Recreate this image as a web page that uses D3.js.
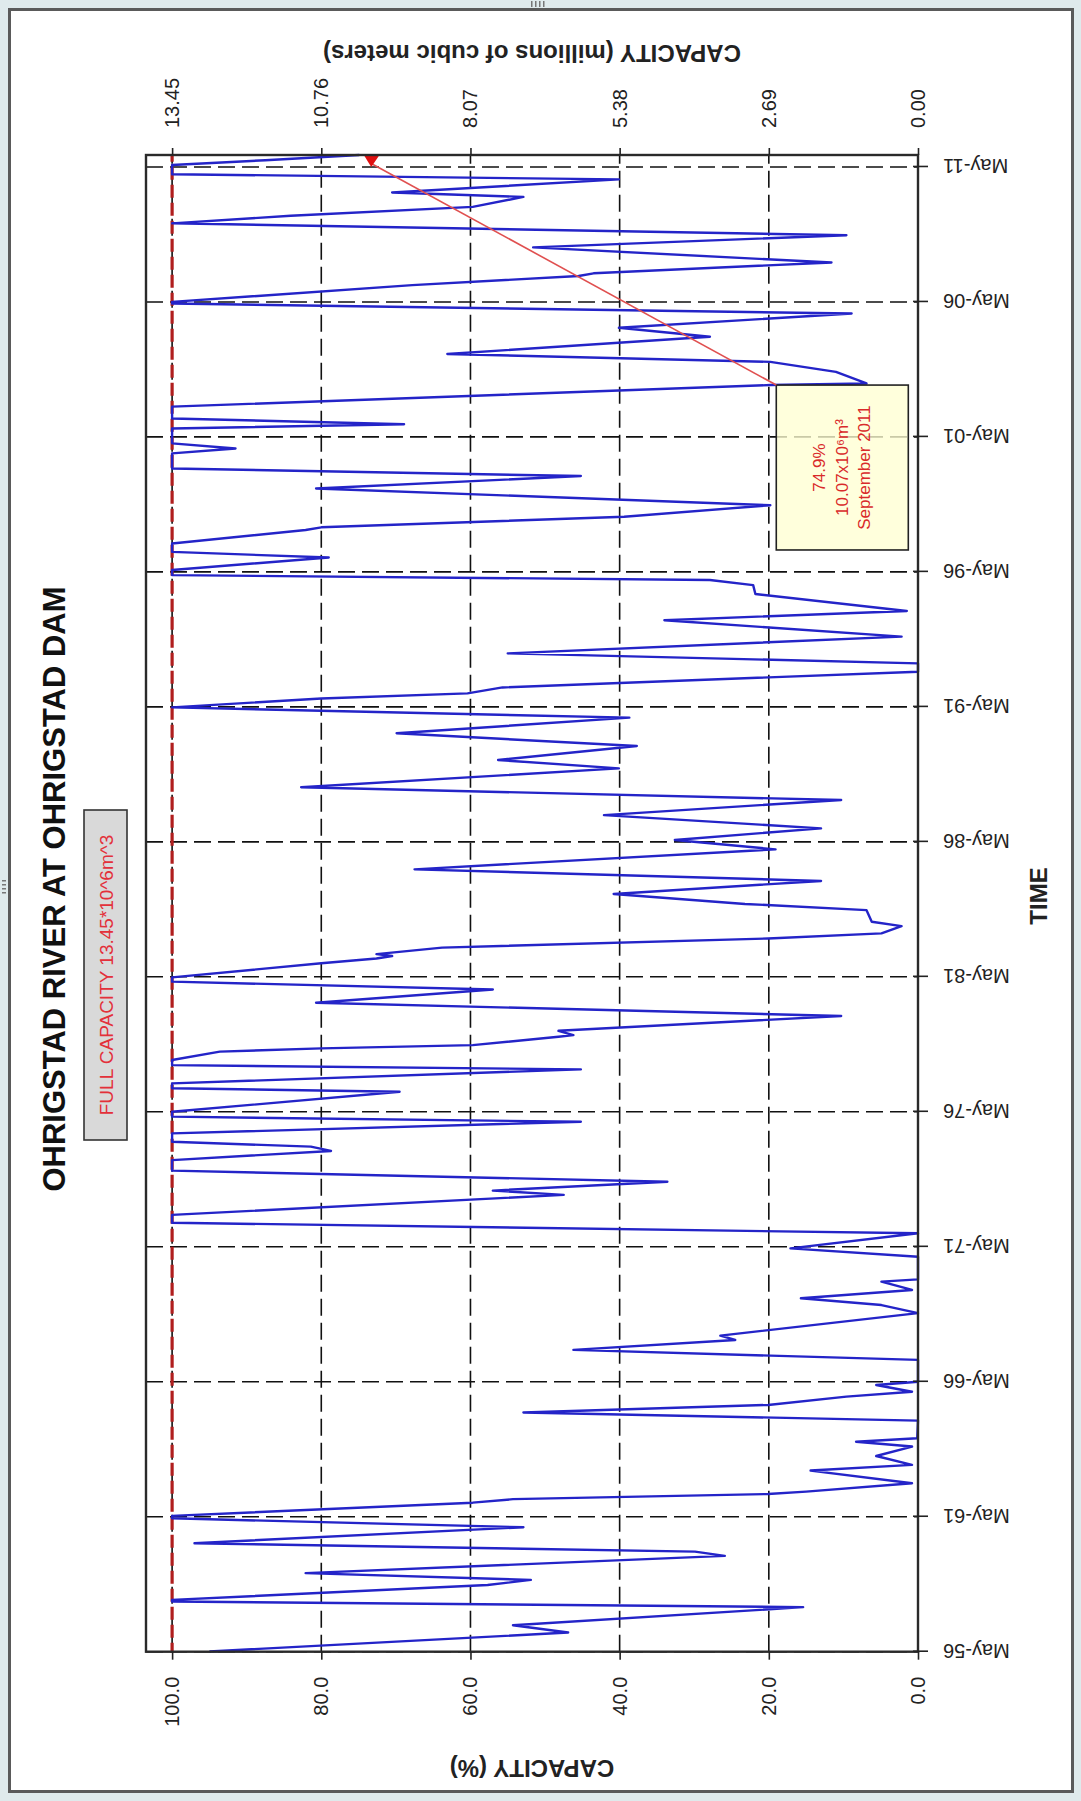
<!DOCTYPE html>
<html><head><meta charset="utf-8">
<script src="https://cdn.jsdelivr.net/npm/d3@7"></script>
<style>
body{margin:0;background:#dfeaec;}
svg{display:block;font-family:"Liberation Sans",Arial,sans-serif;}
</style></head>
<body>
<svg id="c" width="1081" height="1801"></svg>
<script>
// ---------------- DATA ----------------
const timeTickYears  = [1956,1961,1966,1971,1976,1981,1986,1991,1996,2001,2006,2011];
const timeTickLabels = ["May-56","May-61","May-66","May-71","May-76","May-81","May-86","May-91","May-96","May-01","May-06","May-11"];
const pctTicks   = [0,20,40,60,80,100];
const volTicks   = [0,2.69,5.38,8.07,10.76,13.45];
const fullCapacity = 13.45;

// decimal year of each reading
const years = [
1956.34,1957.04,1957.31,1957.98,1958.19,1958.25,1958.80,1958.99,1959.24,1959.88,
1960.04,1960.35,1960.94,1961.27,1961.36,1961.85,1961.98,1962.17,1962.26,1962.57,
1963.04,1963.25,1963.58,1963.93,1964.11,1964.24,1964.89,1965.19,1965.47,1965.78,
1965.96,1966.21,1966.33,1967.01,1967.14,1967.51,1967.88,1968.04,1968.87,1969.17,
1969.42,1969.73,1970.04,1970.12,1970.96,1971.27,1971.83,1972.22,1972.51,1973.25,
1973.41,1973.74,1974.15,1974.54,1974.88,1975.04,1975.22,1975.53,1975.96,1976.15,
1976.33,1977.07,1977.20,1977.38,1977.90,1978.06,1978.25,1978.56,1978.68,1978.80,
1979.11,1979.17,1979.33,1979.88,1980.37,1980.86,1981.15,1981.31,1981.83,1982.01,
1982.10,1982.17,1982.41,1982.75,1982.94,1983.21,1983.37,1983.80,1984.03,1984.40,
1984.88,1985.31,1986.05,1986.40,1986.83,1987.32,1987.88,1988.35,1989.05,1989.36,
1989.88,1990.35,1990.93,1991.31,1991.64,1991.83,1992.05,1992.63,1992.94,1993.31,
1993.93,1994.54,1994.88,1995.51,1995.84,1996.03,1996.21,1996.40,1996.86,1997.07,
1997.38,1997.88,1997.98,1998.37,1998.80,1999.42,1999.88,2000.16,2000.35,2000.72,
2000.90,2001.09,2001.34,2001.64,2001.80,2002.01,2002.45,2003.25,2003.31,2003.74,
2004.11,2004.40,2005.04,2005.37,2005.90,2006.27,2006.33,2006.95,2007.29,2007.39,
2007.79,2008.35,2008.80,2009.24,2009.52,2009.85,2010.22,2010.38,2010.87,2011.06,
2011.40,2011.58,2011.77
];
// capacity (% of full supply)
const capacity = [
95.0,46.9,54.3,15.4,100,100,57.7,51.9,82.1,25.9,
29.9,97.0,52.9,100,100,59.7,54.3,20.1,15.0,0.8,
14.4,0.8,5.6,0.8,8.3,0.1,0.0,52.9,20.1,9.6,
0.8,5.6,0.0,0.0,0.0,46.2,24.5,26.5,0.0,4.9,
15.7,0.8,4.9,0.0,0.0,17.1,0.0,100,100,47.5,
57.0,33.6,100,100,78.7,81.4,100,100,45.2,100,
100,69.5,100,100,45.2,100,100,93.6,80.0,59.7,
48.2,46.2,48.2,10.3,80.7,57.0,100,100,80.0,72.6,
70.5,72.6,63.8,20.1,4.9,2.2,6.2,6.9,23.2,40.8,
13.0,67.5,19.1,32.6,13.0,42.1,10.3,82.7,40.1,56.3,
37.7,69.9,38.7,100,80.0,60.4,55.7,0.0,0.0,55.0,
2.2,34.0,1.5,21.8,22.1,27.9,100,100,79.0,100,
100,82.1,80.0,39.4,19.8,80.7,45.2,100,100,100,
91.5,100,100,100,68.9,100,100,19.8,6.9,11.0,
19.8,63.1,27.9,40.1,8.9,100,100,67.8,45.5,43.5,
11.6,51.6,9.6,100,84.1,59.7,52.9,70.5,40.1,100,
100,87.5,74.9
];
const annotationLines = ["74.9%","10.07x10\u2076m\u00b3","September 2011"];
const annotationPoint = {year:2011.46, value:73.3};
const annotationBox = {y0:1997.14, y1:2003.25, v0:1.3, v1:19.0};
const boxText = "FULL CAPACITY  13.45*10^6m^3";
const titleText = "OHRIGSTAD RIVER AT OHRIGSTAD DAM";

// ---------------- HELPERS ----------------
function yearToDate(y){
  const Y=Math.floor(y), a=new Date(Y,0,1), b=new Date(Y+1,0,1);
  return new Date(a.getTime()+(y-Y)*(b-a));
}
const data = years.map((y,i)=>({date:yearToDate(y), v:capacity[i]}));

const W=1081, H=1801;
const svg=d3.select("#c");

// window frame
svg.append("rect").attr("x",9.5).attr("y",9.5).attr("width",1063).attr("height",1782)
  .attr("fill","#fff").attr("stroke","#5a5a5a").attr("stroke-width",3);
// resize grips
[0,1,2,3].forEach(i=>{
  svg.append("rect").attr("x",531+i*4).attr("y",1).attr("width",1.5).attr("height",6).attr("fill","#777");
  svg.append("rect").attr("x",2).attr("y",880+i*4).attr("width",4).attr("height",1.5).attr("fill","#777");
});

// original (unrotated) chart: u horizontal (0..1801), v vertical (0..1081), rotated -90deg
const g=svg.append("g").attr("transform",`translate(0,${H}) rotate(-90)`);

const PL=149.3, PR=1646, PT=146, PB=918;
const x=d3.scaleTime().domain([new Date(1956,4,1), new Date(2011,9,10)]).range([PL,PR]);
const y=d3.scaleLinear().domain([0,103.5]).range([PB,PT]);
const y2=d3.scaleLinear().domain([0,fullCapacity*1.035]).range([PB,PT]);
const tickDates=timeTickYears.map(Y=>new Date(Y,4,1));

// grid
const grid=g.append("g");
grid.selectAll(".vg").data(tickDates).join("line")
  .attr("x1",d=>x(d)).attr("x2",d=>x(d)).attr("y1",PT).attr("y2",PB)
  .attr("stroke","#111").attr("stroke-width",1.6).attr("stroke-dasharray","17,7");
grid.selectAll(".hg").data(pctTicks.filter(d=>d>0)).join("line")
  .attr("x1",PL).attr("x2",PR).attr("y1",d=>y(d)).attr("y2",d=>y(d))
  .attr("stroke","#111").attr("stroke-width",1.6).attr("stroke-dasharray","17,7");

// full capacity red dashed line
g.append("line").attr("x1",PL).attr("x2",PR).attr("y1",y(100)).attr("y2",y(100))
  .attr("stroke","#b01e1e").attr("stroke-width",3.2).attr("stroke-dasharray","13,5")
  .attr("stroke-dashoffset",4);

// data line
g.append("path").datum(data)
  .attr("d",d3.line().x(d=>x(d.date)).y(d=>y(d.v)))
  .attr("fill","none").attr("stroke","#2424c8").attr("stroke-width",2.4).attr("stroke-linejoin","round");

// annotation box (semi-transparent, over the line)
const ab=annotationBox;
g.append("rect")
  .attr("x",x(yearToDate(ab.y0))).attr("width",x(yearToDate(ab.y1))-x(yearToDate(ab.y0)))
  .attr("y",y(ab.v1)).attr("height",y(ab.v0)-y(ab.v1))
  .attr("fill","#ffffd2").attr("fill-opacity",0.78).attr("stroke","#222").attr("stroke-width",1.6);

const cu=(x(yearToDate(ab.y0))+x(yearToDate(ab.y1)))/2;
const cv=(y(ab.v0)+y(ab.v1))/2;
g.append("g").selectAll("text").data(annotationLines).join("text")
  .attr("x",cu).attr("y",(d,i)=>cv+(i-1)*22.5).attr("text-anchor","middle").attr("dominant-baseline","central")
  .attr("font-size",17).attr("fill","#d92a2a").text(d=>d);

// leader line + arrow
g.append("line")
  .attr("x1",x(yearToDate(ab.y1))).attr("y1",y(ab.v1))
  .attr("x2",x(yearToDate(annotationPoint.year))).attr("y2",y(annotationPoint.value))
  .attr("stroke","#e05050").attr("stroke-width",1.6);
const tip=[x(yearToDate(2011.33)),y(annotationPoint.value)];
g.append("path")
  .attr("d",`M${PR},${y(annotationPoint.value+1)}L${PR},${y(annotationPoint.value-1.1)}L${tip[0]},${tip[1]}Z`)
  .attr("fill","#e01010");

// frame
g.append("rect").attr("x",PL).attr("y",PT).attr("width",PR-PL).attr("height",PB-PT)
  .attr("fill","none").attr("stroke","#2a2a2a").attr("stroke-width",2.4);

// axes
const font='"Liberation Sans",Arial,sans-serif';
const gx=g.append("g").attr("transform",`translate(0,${PB})`)
  .call(d3.axisBottom(x).tickValues(tickDates).tickFormat((d,i)=>timeTickLabels[i]).tickSizeInner(10).tickSizeOuter(0));
gx.select(".domain").remove();
gx.selectAll(".tick line").attr("y1",-5).attr("y2",10).attr("stroke","#222").attr("stroke-width",1.6);
gx.selectAll(".tick text").attr("transform","rotate(-90)").attr("text-anchor","end")
  .attr("x",-25).attr("y",0).attr("dy","0.35em").attr("font-size",20).attr("font-family",font).attr("fill","#222");

const gy=g.append("g").attr("transform",`translate(${PL},0)`)
  .call(d3.axisLeft(y).tickValues(pctTicks).tickFormat(d3.format(".1f")).tickSizeInner(8).tickSizeOuter(0).tickPadding(17));
gy.select(".domain").remove();
gy.selectAll(".tick line").attr("stroke","#222").attr("stroke-width",1.6);
gy.selectAll(".tick text").attr("font-size",20).attr("font-family",font).attr("fill","#222");

const gy2=g.append("g").attr("transform",`translate(${PR},0)`)
  .call(d3.axisRight(y2).tickValues(volTicks).tickFormat(d=>d.toFixed(2)).tickSizeInner(7).tickSizeOuter(0).tickPadding(20));
gy2.select(".domain").remove();
gy2.selectAll(".tick line").attr("stroke","#222").attr("stroke-width",1.6);
gy2.selectAll(".tick text").attr("font-size",20).attr("font-family",font).attr("fill","#222");

// axis titles
g.append("text").attr("transform",`translate(1748,${(PT+PB)/2}) rotate(-90)`)
  .attr("text-anchor","middle").attr("dominant-baseline","central")
  .attr("font-size",24).attr("font-weight","bold").attr("fill","#222").text("CAPACITY  (millions of cubic meters)");
g.append("text").attr("transform",`translate(33,${(PT+PB)/2}) rotate(-90)`)
  .attr("text-anchor","middle").attr("dominant-baseline","central")
  .attr("font-size",24).attr("font-weight","bold").attr("fill","#222").text("CAPACITY (%)");
g.append("text").attr("x",905).attr("y",1038)
  .attr("text-anchor","middle").attr("dominant-baseline","central")
  .attr("font-size",24).attr("font-weight","bold").attr("fill","#222").text("TIME");

// title
g.append("text").attr("x",912).attr("y",54)
  .attr("text-anchor","middle").attr("dominant-baseline","central")
  .attr("font-size",31).attr("font-weight","bold").attr("fill","#111").text(titleText);

// full capacity label box
g.append("rect").attr("x",661).attr("y",84).attr("width",330).attr("height",43)
  .attr("fill","#d9d9d9").attr("stroke","#333").attr("stroke-width",1.6);
g.append("text").attr("x",826).attr("y",106).attr("text-anchor","middle").attr("dominant-baseline","central")
  .attr("font-size",19).attr("fill","#e3303a").text(boxText);
</script>
</body></html>
